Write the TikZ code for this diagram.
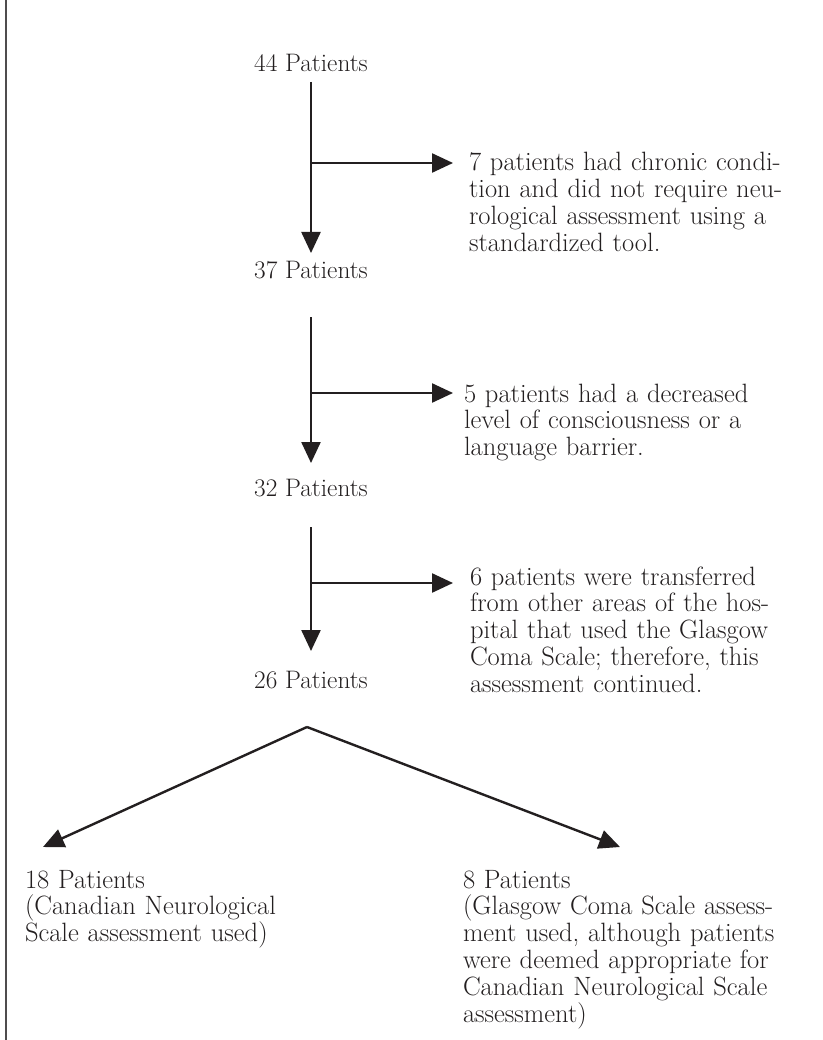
\documentclass[tikz,border=0pt]{standalone}
\usetikzlibrary{arrows.meta,calc}
\definecolor{ink}{HTML}{231F20}
\begin{document}
\begin{tikzpicture}[x=1pt,y=-1pt,
  txt/.style={inner sep=0pt,outer sep=0pt,text=ink},
  block/.style={txt,font=\fontsize{26.5}{26.8}\selectfont,text width=360pt,align=left,anchor=base west},
  cnt/.style={txt,font=\fontsize{25.3}{26.8}\selectfont,anchor=base},
  arr/.style={draw=ink,line width=2.4pt,-{Triangle[length=21pt,width=19pt]}}]
\useasboundingbox (0,0) rectangle (822,1040);
\fill[white] (0,0) rectangle (822,1040);
\draw[draw=ink!80,line width=1.3pt] (6,0) -- (6,1040);

\node[cnt] (n44) at (311,72) {44 Patients};
\node[cnt] (n37) at (311,279) {37 Patients};
\node[cnt] (n32) at (311,496) {32 Patients};
\node[cnt] (n26) at (311,688) {26 Patients};

\node[block] (t1) at (469,171) {7 patients had chronic condi-\\tion and did not require neu-\\rological assessment using a\\standardized tool.};
\node[block] (t2) at (464,402) {5 patients had a decreased\\level of consciousness or a\\language barrier.};
\node[block] (t3) at (470,585) {6 patients were transferred\\from other areas of the hos-\\pital that used the Glasgow\\Coma Scale; therefore, this\\assessment continued.};

\node[block] (n18) at (25,888) {18 Patients\\(Canadian Neurological\\Scale assessment used)};
\node[block] (n8) at (463,888) {8 Patients\\(Glasgow Coma Scale assess-\\ment used, although patients\\were deemed appropriate for\\Canadian Neurological Scale\\assessment)};

% vertical arrows
\draw[arr] ([yshift=-10pt]n44.base) -- ([yshift=26pt]n37.base);
\draw[arr] ([yshift=-38pt]n37.base) -- ([yshift=33pt]n32.base);
\draw[arr] ([yshift=-31pt]n32.base) -- ([yshift=37pt]n26.base);

% branch arrows
\coordinate (b1) at (311,163);
\coordinate (b2) at (311,393);
\coordinate (b3) at (311,583);
\draw[arr] (b1) -- (b1 -| {$(t1.base west)+(-16pt,0)$});
\draw[arr] (b2) -- (b2 -| {$(t2.base west)+(-11pt,0)$});
\draw[arr] (b3) -- (b3 -| {$(t3.base west)+(-17pt,0)$});

% split
\coordinate (apex) at ($(n26.base)+(-4pt,-39pt)$);
\coordinate (lt) at ($(n18.base west)+(18pt,41pt)$);
\coordinate (rt) at ($(n8.base west)+(157pt,41pt)$);
\draw[arr] (apex) -- (lt);
\draw[arr] (apex) -- (rt);
\end{tikzpicture}
\end{document}
